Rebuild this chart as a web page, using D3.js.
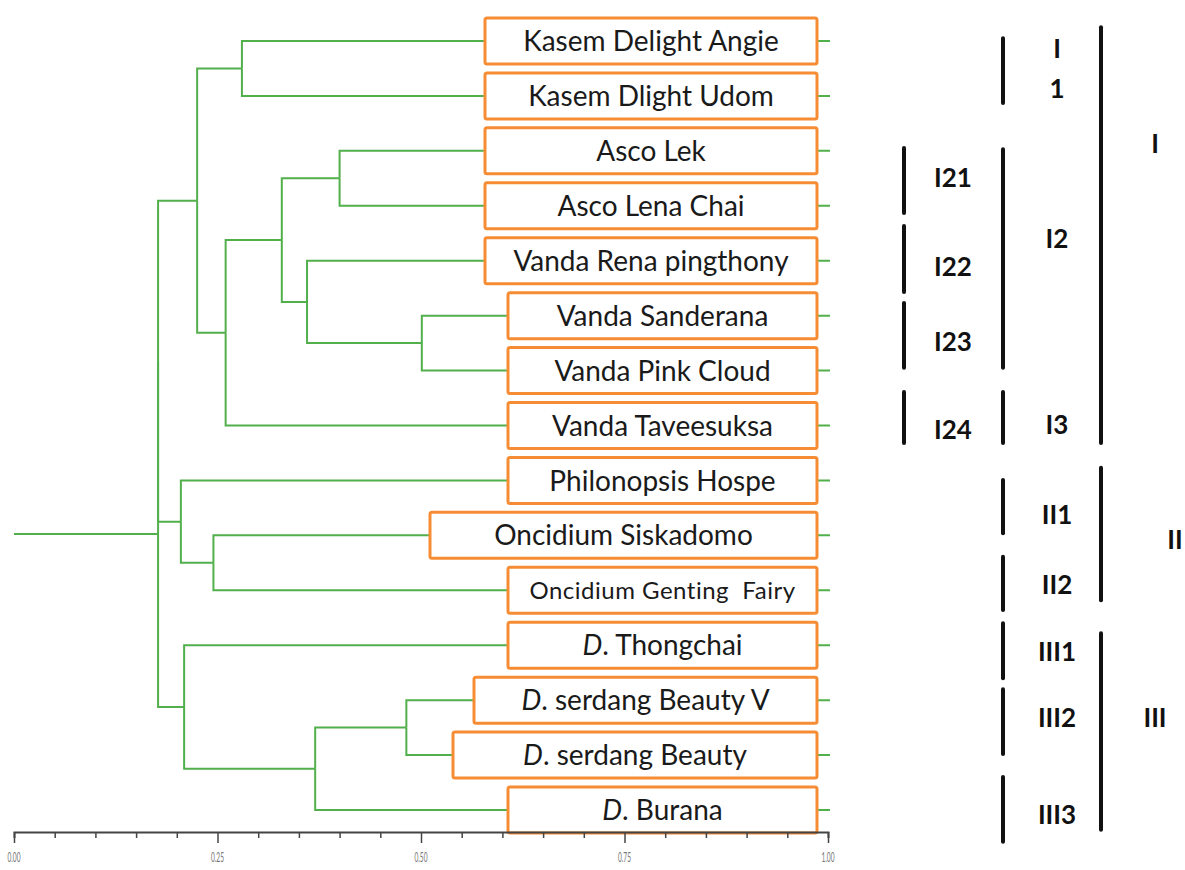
<!DOCTYPE html>
<meta charset="utf-8">
<script src="https://d3js.org/d3.v7.min.js"></script>
<style>
    body { margin: 0; background: #fff; }
    text { font-family: Lato, "Open Sans", sans-serif; }
</style>
<body>
<div id="my_dataviz"></div>
</body>
<script>
    // cultivars, top to bottom
    const leaves = [
        "Kasem Delight Angie", "Kasem Dlight Udom", "Asco Lek", "Asco Lena Chai",
        "Vanda Rena pingthony", "Vanda Sanderana", "Vanda Pink Cloud", "Vanda Taveesuksa",
        "Philonopsis Hospe", "Oncidium Siskadomo", "Oncidium Genting  Fairy",
        "D. Thongchai", "D. serdang Beauty V", "D. serdang Beauty", "D. Burana"
    ];
    // merges: [childA, childB, similarity]; index >= leaves.length points to an earlier merge
    const merges = [
        [0, 1, 0.280],
        [2, 3, 0.400],
        [5, 6, 0.501],
        [4, 17, 0.360],
        [16, 18, 0.329],
        [19, 7, 0.260],
        [15, 20, 0.225],
        [9, 10, 0.245],
        [8, 22, 0.205],
        [12, 13, 0.482],
        [24, 14, 0.370],
        [11, 25, 0.209],
        [21, 23, 0.177],
        [27, 26, 0.177]
    ];
    const tickValues = d3.range(0, 1.0001, 0.05);
    const tickLabels = [0, 0.25, 0.5, 0.75, 1];

    // groups on the right, extents in leaf units
    const groups = [
        {label: ["I21"], col: 0, from: 1.95, to: 3.13, at: [2.49]},
        {label: ["I22"], col: 0, from: 3.37, to: 4.57, at: [4.11]},
        {label: ["I23"], col: 0, from: 4.77, to: 5.95, at: [5.48]},
        {label: ["I24"], col: 0, from: 6.39, to: 7.32, at: [7.08]},
        {label: ["I", "1"], col: 1, from: -0.05, to: 1.13, at: [0.13, 0.86]},
        {label: ["I2"], col: 1, from: 1.97, to: 5.95, at: [3.59]},
        {label: ["I3"], col: 1, from: 6.39, to: 7.32, at: [6.99]},
        {label: ["II1"], col: 1, from: 7.99, to: 8.96, at: [8.63]},
        {label: ["II2"], col: 1, from: 9.39, to: 10.36, at: [9.9]},
        {label: ["III1"], col: 1, from: 10.6, to: 11.6, at: [11.12]},
        {label: ["III2"], col: 1, from: 11.8, to: 12.98, at: [12.31]},
        {label: ["III3"], col: 1, from: 13.4, to: 14.58, at: [14.09]},
        {label: ["I"], col: 2, from: -0.25, to: 7.32, at: [1.86]},
        {label: ["II"], col: 2, from: 7.77, to: 10.18, at: [9.07]},
        {label: ["III"], col: 2, from: 10.78, to: 14.36, at: [12.32]}
    ];

    // layout
    const boxLeft = [485, 485, 485, 485, 485, 508, 508, 508, 508, 430, 508, 508, 474, 453, 508];
    const boxRight = 817, boxH = 46;
    const colX = [904, 1003, 1101], labelX = [953, 1057, 1155];
    const green = "#52b04c", orange = "#f68d34";

    const svg = d3.select("#my_dataviz")
        .append("svg")
        .attr("width", 1185)
        .attr("height", 870);

    const x = d3.scaleLinear().domain([0, 1]).range([14, 828]);
    const y = d3.scaleLinear().domain([0, leaves.length - 1]).range([41, 810]);

    // node positions
    let nodes = leaves.map((d, i) => ({x: x(1) + 2, y: y(i)}));
    merges.forEach(m => {
        let a = nodes[m[0]], b = nodes[m[1]];
        nodes.push({x: x(m[2]), y: (a.y + b.y) / 2, kids: [a, b]});
    });
    const root = nodes[nodes.length - 1];

    let links = [];
    nodes.forEach(n => {
        if (n.kids) n.kids.forEach(k => links.push({s: n, t: k}));
    });

    const tree = svg.append("g")
        .attr("fill", "none")
        .attr("stroke", green)
        .attr("stroke-width", 2);

    tree.selectAll("path")
        .data(links)
        .enter()
        .append("path")
        .attr("d", d => "M" + d.s.x + "," + d.s.y + "V" + d.t.y + "H" + d.t.x);

    tree.append("path")
        .attr("d", "M" + x(0) + "," + root.y + "H" + root.x);

    // leaf boxes
    const box = svg.selectAll(".leaf")
        .data(leaves)
        .enter()
        .append("g")
        .attr("class", "leaf");

    box.append("rect")
        .attr("x", (d, i) => boxLeft[i])
        .attr("y", (d, i) => y(i) - boxH / 2)
        .attr("width", (d, i) => boxRight - boxLeft[i])
        .attr("height", boxH)
        .attr("rx", 2)
        .style("fill", "#fff")
        .style("stroke", orange)
        .style("stroke-width", 3);

    const label = box.append("text")
        .attr("x", (d, i) => (boxLeft[i] + boxRight) / 2)
        .attr("y", (d, i) => y(i))
        .attr("dy", "0.36em")
        .attr("text-anchor", "middle")
        .attr("xml:space", "preserve")
        .style("white-space", "pre")
        .style("font-size", d => d.indexOf("Genting") >= 0 ? "24px" : "28px")
        .style("letter-spacing", d => d.indexOf("Genting") >= 0 ? "0.5px" : "0px")
        .style("fill", "#1a1a1a");

    label.each(function (d) {
        let t = d3.select(this);
        if (d.indexOf("D. ") === 0) {
            t.append("tspan").style("font-style", "italic").text("D");
            t.append("tspan").text(". " + d.slice(3));
        } else {
            t.text(d);
        }
    });

    // axis
    const axis = svg.append("g")
        .attr("transform", "translate(0,832)")
        .call(d3.axisBottom(x)
            .tickValues(tickValues)
            .tickSize(6)
            .tickFormat(""));

    axis.select(".domain").attr("stroke", "#444").attr("stroke-width", 2);
    axis.selectAll(".tick line")
        .attr("stroke", "#444")
        .attr("stroke-width", 1.5)
        .attr("y2", d => tickLabels.some(v => Math.abs(v - d) < 1e-6) ? 11 : 6);

    svg.selectAll(".tlabel")
        .data(tickLabels)
        .enter()
        .append("text")
        .attr("class", "tlabel")
        .attr("transform", d => "translate(" + x(d) + ",862) scale(0.6,1.3)")
        .attr("text-anchor", "middle")
        .style("font-size", "11px")
        .style("fill", "#777")
        .text(d3.format(".2f"));

    // group bars and labels
    const grp = svg.selectAll(".grp")
        .data(groups)
        .enter()
        .append("g")
        .attr("class", "grp");

    grp.append("line")
        .attr("x1", d => colX[d.col])
        .attr("x2", d => colX[d.col])
        .attr("y1", d => y(d.from))
        .attr("y2", d => y(d.to))
        .attr("stroke", "#111")
        .attr("stroke-width", 4)
        .attr("stroke-linecap", "round");

    grp.each(function (d) {
        let g = d3.select(this);
        d.label.forEach((s, j) => {
            g.append("text")
                .attr("x", labelX[d.col] + (s === "II" ? 20 : 0))
                .attr("y", y(d.at[j]))
                .attr("dy", "0.36em")
                .attr("text-anchor", "middle")
                .style("font-size", "26px")
                .style("font-weight", "bold")
                .style("fill", "#111")
                .text(s);
        });
    });
</script>
